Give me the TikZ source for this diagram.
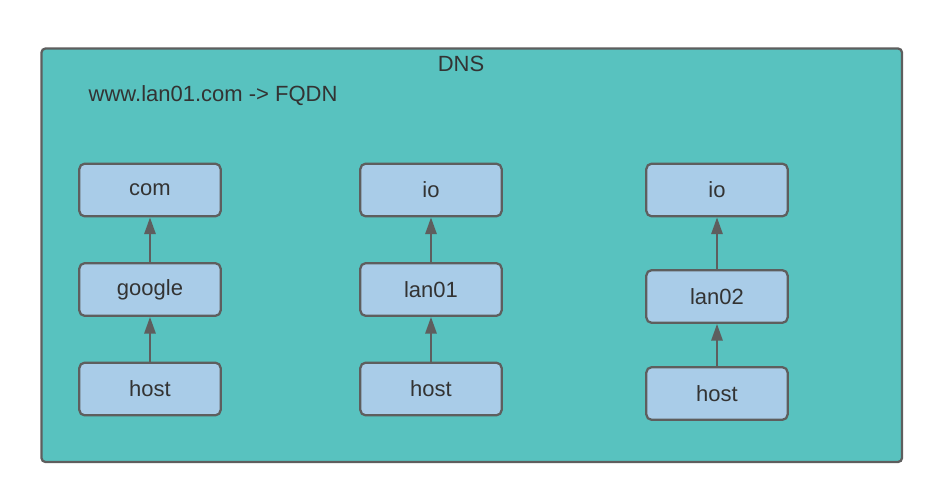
\documentclass[tikz,border=0pt]{standalone}
\usepackage{fontspec}
\setmainfont{Liberation Sans}
\usetikzlibrary{arrows.meta,positioning}
\definecolor{dnsteal}{HTML}{58C2BF}
\definecolor{namefill}{HTML}{A9CCE8}
\definecolor{edgegray}{HTML}{5E5E5E}
\definecolor{textgray}{HTML}{333333}

\begin{document}
\begin{tikzpicture}[x=0.75pt, y=-0.75pt,
  zone/.style={draw=edgegray, fill=dnsteal, line width=1.7pt, rounded corners=3pt},
  namebox/.style={draw=edgegray, fill=namefill, line width=1.7pt, rounded corners=4pt,
    minimum width=106pt, minimum height=39.5pt, text=textgray, font=\fontsize{16.5}{19}\selectfont},
  caption/.style={text=textgray, font=\fontsize{16.5}{19}\selectfont},
  uparrow/.style={draw=edgegray, line width=1.5pt, -{Triangle[length=12.5pt, width=8.5pt]}}]
  \useasboundingbox (0,0) rectangle (943,503);
  \draw[zone] (41.5,48.5) rectangle (902,462);
  \node[caption] (dns) at (461,64) {DNS};
  \node[caption, anchor=west] (fqdn) at (84,96) {www.lan01.com -> FQDN};

  % first tree
  \node[namebox] (com) at (150,190) {com};
  \node[namebox] (google) at (150,289.5) {google};
  \node[namebox] (hostA) at (150,389) {host};
  % second tree
  \node[namebox] (ioA) at (431,190) {io};
  \node[namebox] (lan01) at (431,289.5) {lan01};
  \node[namebox] (hostB) at (431,389) {host};
  % third tree
  \node[namebox] (ioB) at (717,190) {io};
  \node[namebox] (lan02) at (717,296.5) {lan02};
  \node[namebox] (hostC) at (717,393.5) {host};

  \foreach \a/\b in {hostA/google, google/com, hostB/lan01, lan01/ioA, hostC/lan02, lan02/ioB} {
    \draw[uparrow] (\a) -- (\b);
  }
\end{tikzpicture}
\end{document}
